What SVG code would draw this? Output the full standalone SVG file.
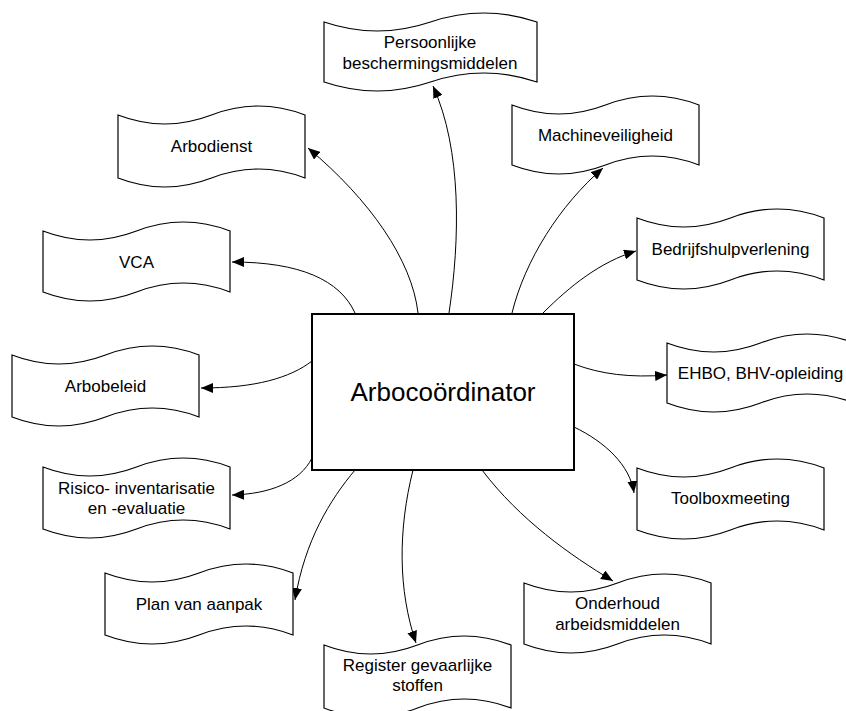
<svg xmlns="http://www.w3.org/2000/svg" width="846" height="711" viewBox="0 0 846 711">
<style>
.node{fill:#fff;stroke:#000;stroke-width:1.2}
.center{fill:#fff;stroke:#000;stroke-width:2}
.lbl{font-family:"Liberation Sans",Arial,sans-serif;font-size:17px;fill:#000;text-anchor:middle}
.big{font-family:"Liberation Sans",Arial,sans-serif;font-size:26px;fill:#000;text-anchor:middle}
.edge{fill:none;stroke:#000;stroke-width:1;marker-end:url(#arr)}
</style>
<defs>
<marker id="arr" markerUnits="userSpaceOnUse" viewBox="0 0 12 10" markerWidth="12" markerHeight="10" refX="12" refY="5" orient="auto">
<path d="M0,0 L12,5 L0,10 Z" fill="#000"/>
</marker>
</defs>
<rect width="846" height="711" fill="#fff"/>
<g id="connectors">
<path class="edge" d="M449,313 C460,240 462,150 433,86"/>
<path class="edge" d="M418,313 C412,260 370,200 308,148"/>
<path class="edge" d="M512,313 C525,260 560,205 603,168"/>
<path class="edge" d="M355,313 C340,280 300,262 232,262"/>
<path class="edge" d="M543,313 C570,286 600,262 636,251"/>
<path class="edge" d="M574,364 C600,374 630,378 667,375"/>
<path class="edge" d="M312,361 C290,378 255,388 201,388"/>
<path class="edge" d="M312,458 C300,482 270,494 232,495"/>
<path class="edge" d="M574,427 C605,442 630,465 634,493"/>
<path class="edge" d="M355,470 C330,500 305,540 295,600"/>
<path class="edge" d="M413,470 C398,530 398,590 416,643"/>
<path class="edge" d="M482,470 C520,520 570,555 613,581"/>
</g>
<g id="n-center">
<rect class="center" x="312" y="314" width="262" height="156"/>
<text class="big" x="443" y="401">Arbocoördinator</text>
</g>
<g id="n-persoonlijke">
<path class="node" d="M324,22 Q377.25,40 430.5,22 T537,22 L537,82 Q483.75,64 430.5,82 T324,82 Z"/>
<text class="lbl" x="430" y="48">Persoonlijke</text>
<text class="lbl" x="430" y="68.5">beschermingsmiddelen</text>
</g>
<g id="n-arbodienst">
<path class="node" d="M118,115 Q164.75,133 211.5,115 T305,115 L305,178 Q258.25,160 211.5,178 T118,178 Z"/>
<text class="lbl" x="211.5" y="152">Arbodienst</text>
</g>
<g id="n-machine">
<path class="node" d="M512,105 Q558.75,123 605.5,105 T699,105 L699,165 Q652.25,147 605.5,165 T512,165 Z"/>
<text class="lbl" x="605.5" y="141">Machineveiligheid</text>
</g>
<g id="n-vca">
<path class="node" d="M43,231 Q89.75,249 136.5,231 T230,231 L230,292 Q183.25,274 136.5,292 T43,292 Z"/>
<text class="lbl" x="136.5" y="268">VCA</text>
</g>
<g id="n-bhv">
<path class="node" d="M637,218 Q683.75,236 730.5,218 T824,218 L824,280 Q777.25,262 730.5,280 T637,280 Z"/>
<text class="lbl" x="730.5" y="255">Bedrijfshulpverlening</text>
</g>
<g id="n-arbobeleid">
<path class="node" d="M12,355 Q58.75,373 105.5,355 T199,355 L199,417 Q152.25,399 105.5,417 T12,417 Z"/>
<text class="lbl" x="105.5" y="392">Arbobeleid</text>
</g>
<g id="n-ehbo">
<path class="node" d="M667,343 Q713.75,361 760.5,343 T854,343 L854,403 Q807.25,385 760.5,403 T667,403 Z"/>
<text class="lbl" x="760.5" y="379">EHBO, BHV-opleiding</text>
</g>
<g id="n-risico">
<path class="node" d="M43,467 Q89.75,485 136.5,467 T230,467 L230,529 Q183.25,511 136.5,529 T43,529 Z"/>
<text class="lbl" x="136.5" y="493.5">Risico- inventarisatie</text>
<text class="lbl" x="136.5" y="514">en -evaluatie</text>
</g>
<g id="n-toolbox">
<path class="node" d="M637,468 Q683.75,486 730.5,468 T824,468 L824,530 Q777.25,512 730.5,530 T637,530 Z"/>
<text class="lbl" x="730.5" y="504">Toolboxmeeting</text>
</g>
<g id="n-plan">
<path class="node" d="M105,573 Q152,591 199,573 T293,573 L293,635 Q246,617 199,635 T105,635 Z"/>
<text class="lbl" x="199" y="609.5">Plan van aanpak</text>
</g>
<g id="n-register">
<path class="node" d="M324,645 Q370.75,663 417.5,645 T511,645 L511,708 Q464.25,690 417.5,708 T324,708 Z"/>
<text class="lbl" x="417.5" y="670.5">Register gevaarlijke</text>
<text class="lbl" x="417.5" y="691">stoffen</text>
</g>
<g id="n-onderhoud">
<path class="node" d="M524,583 Q570.75,601 617.5,583 T711,583 L711,644 Q664.25,626 617.5,644 T524,644 Z"/>
<text class="lbl" x="617.5" y="609">Onderhoud</text>
<text class="lbl" x="617.5" y="630">arbeidsmiddelen</text>
</g>
</svg>
